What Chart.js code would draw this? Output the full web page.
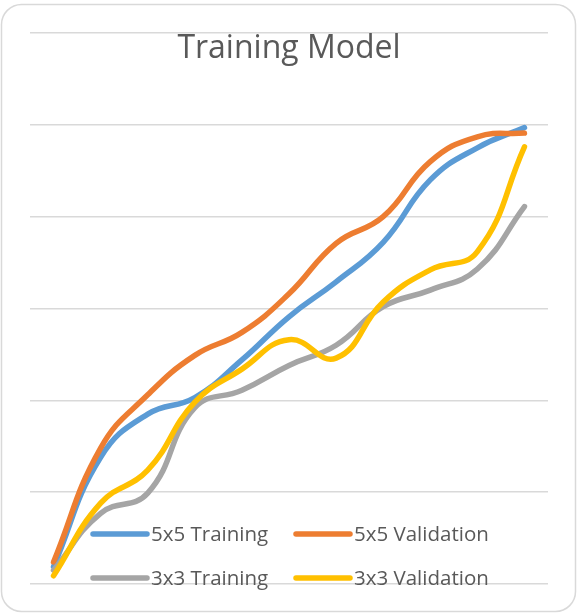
<!DOCTYPE html>
<html>
<head>
<meta charset="utf-8">
<script src="https://cdn.jsdelivr.net/npm/chart.js@4/dist/chart.umd.min.js"></script>
<style>
  html, body { margin: 0; padding: 0; background: #fff; }
  canvas { display: block; }
</style>
</head>
<body>
<canvas id="chart" width="577" height="616"></canvas>
<script>
// epochs along the category axis (no labels shown in the picture)
var epochs = ["1", "2", "3", "4", "5", "6", "7", "8", "9", "10", "11"];

// series values (value axis 0.4 .. 1.0)
var train5x5 = [0.419, 0.538, 0.585, 0.603, 0.644, 0.691, 0.729, 0.772, 0.840, 0.875, 0.897];
var valid5x5 = [0.424, 0.548, 0.606, 0.649, 0.674, 0.716, 0.771, 0.800, 0.860, 0.887, 0.891];
var train3x3 = [0.415, 0.477, 0.499, 0.592, 0.611, 0.638, 0.660, 0.702, 0.720, 0.743, 0.811];
var valid3x3 = [0.409, 0.488, 0.524, 0.598, 0.634, 0.666, 0.646, 0.707, 0.742, 0.762, 0.876];

var seriesNames = ["5x5 Training", "5x5 Validation", "3x3 Training", "3x3 Validation"];
var seriesColors = ["#5B9BD5", "#ED7D31", "#A5A5A5", "#FFC000"];

var titleText = "Training Model";
var textColor = "#595959";
var fontFamily = "'Open Sans', 'Noto Sans', sans-serif";

// frame + title + legend drawn straight on the canvas (Excel keeps them inside the plot)
var excelLook = {
    id: "excelLook",
    beforeDraw: function (chart) {
        var ctx = chart.ctx;
        ctx.save();
        ctx.fillStyle = "#fff";
        ctx.fillRect(0, 0, chart.width, chart.height);
        ctx.strokeStyle = "#d9d9d9";
        ctx.lineWidth = 1.5;
        ctx.beginPath();
        ctx.roundRect(1.5, 4.5, 574, 607, 20);
        ctx.stroke();
        ctx.restore();
    },
    afterDraw: function (chart) {
        var ctx = chart.ctx;
        ctx.save();
        ctx.fillStyle = textColor;
        ctx.textAlign = "center";
        ctx.textBaseline = "alphabetic";
        ctx.font = "32px " + fontFamily;
        ctx.fillText(titleText, 289, 58);

        // legend, 2 x 2
        var cols = [93, 296];
        var rows = [534, 578];
        ctx.font = "20.5px " + fontFamily;
        ctx.textAlign = "left";
        ctx.textBaseline = "middle";
        ctx.lineCap = "round";
        ctx.lineWidth = 5.5;
        chart.data.datasets.forEach(function (ds, i) {
            var x = cols[i % 2];
            var y = rows[Math.floor(i / 2)];
            ctx.strokeStyle = ds.borderColor;
            ctx.beginPath();
            ctx.moveTo(x, y);
            ctx.lineTo(x + 54, y);
            ctx.stroke();
            ctx.fillStyle = textColor;
            ctx.fillText(ds.label, x + 58, y + 1);
        });
        ctx.restore();
    }
};

var makeSet = function (i, values) {
    return {
        label: seriesNames[i],
        data: values,
        borderColor: seriesColors[i],
        backgroundColor: seriesColors[i],
        borderWidth: 5.5,
        borderCapStyle: "round",
        borderJoinStyle: "round",
        pointRadius: 0,
        tension: 0.45,
        fill: false,
        order: 4 - i
    };
};

new Chart(document.getElementById("chart"), {
    type: "line",
    data: {
        labels: epochs,
        datasets: [
            makeSet(0, train5x5),
            makeSet(1, valid5x5),
            makeSet(2, train3x3),
            makeSet(3, valid3x3)
        ]
    },
    options: {
        responsive: false,
        animation: false,
        layout: { padding: { left: 30, right: 29, top: 33, bottom: 32 } },
        plugins: {
            legend: { display: false },
            title: { display: false },
            tooltip: { enabled: false }
        },
        scales: {
            x: {
                display: false,
                offset: true
            },
            y: {
                min: 0.4,
                max: 1.0,
                ticks: { display: false, stepSize: 0.1 },
                border: { display: false },
                grid: { color: "#d9d9d9", lineWidth: 1.5, drawTicks: false }
            }
        }
    },
    plugins: [excelLook]
});
</script>
</body>
</html>
